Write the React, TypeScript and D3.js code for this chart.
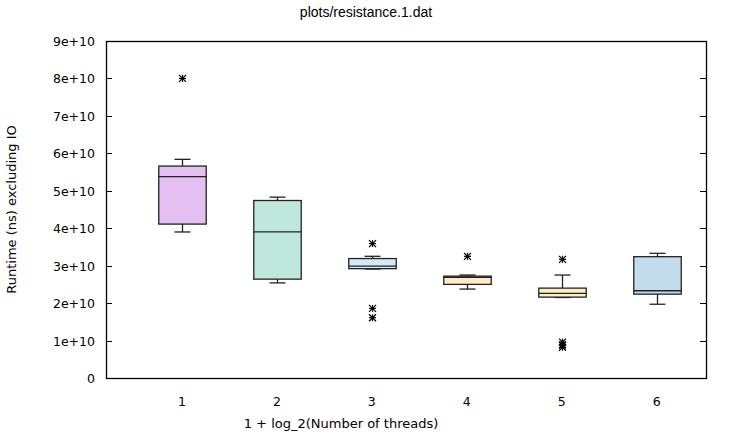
import { useEffect, useRef } from 'react'
import * as d3 from 'd3'

// one entry per thread-count group (1 + log_2(threads))
const groups = [1, 2, 3, 4, 5, 6]
const whiskerLow = [3.9e10, 2.54e10, 2.91e10, 2.375e10, 2.15e10, 1.97e10]
const q1 = [4.11e10, 2.64e10, 2.92e10, 2.5e10, 2.16e10, 2.24e10]
const median = [5.38e10, 3.9e10, 2.99e10, 2.69e10, 2.26e10, 2.33e10]
const q3 = [5.66e10, 4.74e10, 3.19e10, 2.72e10, 2.4e10, 3.24e10]
const whiskerHigh = [5.84e10, 4.83e10, 3.25e10, 2.75e10, 2.75e10, 3.33e10]
const outliers = [[8.0e10], [], [3.59e10, 1.86e10, 1.61e10], [3.25e10], [3.17e10, 0.96e10, 0.88e10, 0.82e10], []]
const fills = ['#e3c0f1', '#c0e7db', '#d3e9f8', '#fde8c7', '#f8f0c6', '#c3ddee']
const yTicks = [0, 1e10, 2e10, 3e10, 4e10, 5e10, 6e10, 7e10, 8e10, 9e10]
const yTickLabels = ['0', '1e+10', '2e+10', '3e+10', '4e+10', '5e+10', '6e+10', '7e+10', '8e+10', '9e+10']

const W = 730
const H = 436

export default function App() {
  const ref = useRef<SVGSVGElement | null>(null)

  useEffect(() => {
    if (!ref.current) {return}
    document.body.style.margin = '0'
    const svg = d3.select(ref.current)
    svg.selectAll('*').remove()

    const margin = { top: 41, right: 24, bottom: 58, left: 106 }
    const x = d3.scaleLinear().domain([0.2, 6.52]).range([margin.left, W - margin.right])
    const y = d3.scaleLinear().domain([0, 9e10]).range([H - margin.bottom, margin.top])
    const boxW = x(1.25) - x(1)
    const capW = 8
    const ink = '#000'
    const tickFont = 'DejaVu Sans, sans-serif'

    svg.append('rect').attr('width', W).attr('height', H).attr('fill', '#fff')

    // y ticks, inward on both sides
    const yt = svg.append('g')
    yTicks.forEach((t, i) => {
      const yy = Math.round(y(t)) + 0.5
      yt.append('line').attr('x1', x.range()[0]).attr('x2', x.range()[0] + 6).attr('y1', yy).attr('y2', yy).attr('stroke', ink)
      yt.append('line').attr('x1', x.range()[1] - 6).attr('x2', x.range()[1]).attr('y1', yy).attr('y2', yy).attr('stroke', ink)
      yt.append('text')
        .attr('x', x.range()[0] - 11)
        .attr('y', yy)
        .attr('dy', '0.36em')
        .attr('text-anchor', 'end')
        .style('font-family', tickFont)
        .style('font-size', '12.5px')
        .attr('fill', ink)
        .text(yTickLabels[i])
    })

    // x labels
    groups.forEach((g) => {
      svg.append('text')
        .attr('x', x(g))
        .attr('y', y(0) + 28)
        .attr('text-anchor', 'middle')
        .style('font-family', tickFont)
        .style('font-size', '12.5px')
        .attr('fill', ink)
        .text(String(g))
    })

    const boxes = svg.append('g')
    groups.forEach((g, i) => {
      const cx = Math.round(x(g)) + 0.5
      const col = boxes.append('g').attr('stroke', '#222').attr('stroke-width', 1.3)
      // whiskers
      col.append('line').attr('x1', cx).attr('x2', cx).attr('y1', y(q3[i])).attr('y2', y(whiskerHigh[i]))
      col.append('line').attr('x1', cx).attr('x2', cx).attr('y1', y(q1[i])).attr('y2', y(whiskerLow[i]))
      col.append('line').attr('x1', cx - capW).attr('x2', cx + capW).attr('y1', y(whiskerHigh[i])).attr('y2', y(whiskerHigh[i]))
      col.append('line').attr('x1', cx - capW).attr('x2', cx + capW).attr('y1', y(whiskerLow[i])).attr('y2', y(whiskerLow[i]))
      col.append('rect')
        .attr('x', cx - boxW)
        .attr('y', y(q3[i]))
        .attr('width', boxW * 2)
        .attr('height', y(q1[i]) - y(q3[i]))
        .attr('fill', fills[i])
      col.append('line').attr('x1', cx - boxW).attr('x2', cx + boxW).attr('y1', y(median[i])).attr('y2', y(median[i]))

      // outliers as gnuplot star points
      outliers[i].forEach((v) => {
        const py = y(v)
        const s = 3.5
        const p = col.append('g').attr('stroke', '#000').attr('stroke-width', 1.2)
        p.append('line').attr('x1', cx - s).attr('x2', cx + s).attr('y1', py).attr('y2', py)
        p.append('line').attr('x1', cx).attr('x2', cx).attr('y1', py - s).attr('y2', py + s)
        p.append('line').attr('x1', cx - s).attr('x2', cx + s).attr('y1', py - s).attr('y2', py + s)
        p.append('line').attr('x1', cx - s).attr('x2', cx + s).attr('y1', py + s).attr('y2', py - s)
      })
    })

    // plot border
    svg.append('rect')
      .attr('x', x.range()[0] + 0.5)
      .attr('y', y.range()[1] + 0.5)
      .attr('width', x.range()[1] - x.range()[0])
      .attr('height', y.range()[0] - y.range()[1])
      .attr('fill', 'none')
      .attr('stroke', ink)
      .attr('stroke-width', 1.3)

    svg.append('text')
      .attr('x', (x.range()[0] + x.range()[1]) / 2 - 40)
      .attr('y', 17)
      .attr('text-anchor', 'middle')
      .style('font-family', 'Liberation Sans, Arial, sans-serif')
      .style('font-size', '14px')
      .attr('fill', ink)
      .text('plots/resistance.1.dat')

    svg.append('text')
      .attr('x', (x.range()[0] + x.range()[1]) / 2 - 65)
      .attr('y', H - 8)
      .attr('text-anchor', 'middle')
      .style('font-family', tickFont)
      .style('font-size', '13px')
      .attr('fill', ink)
      .text('1 + log_2(Number of threads)')

    svg.append('text')
      .attr('transform', `translate(16,${(y.range()[0] + y.range()[1]) / 2}) rotate(-90)`)
      .attr('text-anchor', 'middle')
      .style('font-family', tickFont)
      .style('font-size', '13px')
      .attr('fill', ink)
      .text('Runtime (ns) excluding IO')
  }, [])

  return (
    <div style={{ width: W, height: H }}>
      <svg ref={ref} width={W} height={H} style={{ display: 'block' }} role="img" aria-label="Box plot" />
    </div>
  )
}
